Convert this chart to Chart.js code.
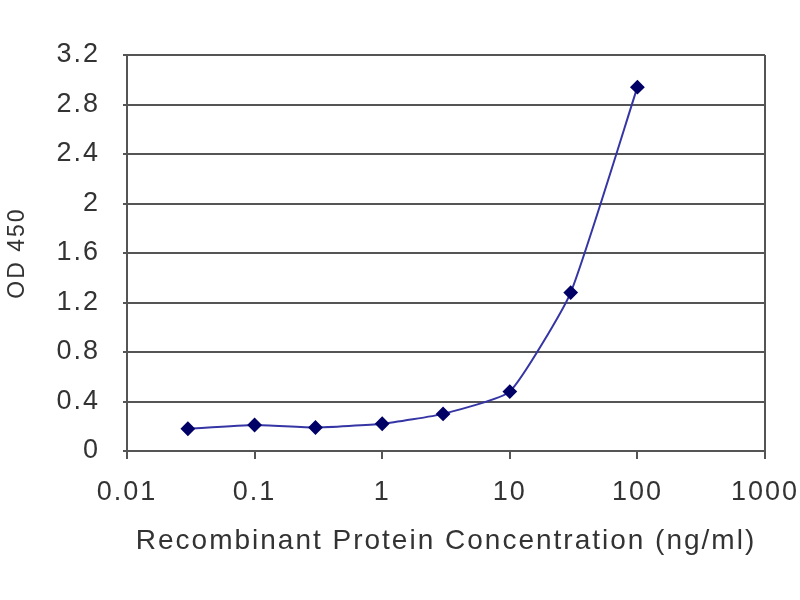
<!DOCTYPE html>
<html>
<head>
<meta charset="utf-8">
<script src="https://cdn.jsdelivr.net/npm/chart.js@4"></script>
<style>
  html, body { margin: 0; padding: 0; background: #fff; }
  #wrap { width: 800px; height: 600px; }
</style>
</head>
<body>
<div id="wrap"><canvas id="chart" width="800" height="600"></canvas></div>
<script>
// concentrations (ng/ml) and OD 450 readings
const concentrations = [0.03, 0.1, 0.3, 1, 3, 10, 30, 100];
const od450 = [0.18, 0.21, 0.19, 0.22, 0.30, 0.48, 1.28, 2.94];
const xTicks = [0.01, 0.1, 1, 10, 100, 1000];
const xTickLabels = ['0.01', '0.1', '1', '10', '100', '1000'];
const yTicks = [0, 0.4, 0.8, 1.2, 1.6, 2, 2.4, 2.8, 3.2];
const yTickLabels = ['0', '0.4', '0.8', '1.2', '1.6', '2', '2.4', '2.8', '3.2'];

const FONT = 'Arial, "Liberation Sans", sans-serif';

// the old picture has widely spaced text
const spacing = {
  id: 'spacing',
  beforeUpdate(chart) { chart.ctx.letterSpacing = '2px'; },
  beforeDraw(chart) { chart.ctx.letterSpacing = '2px'; }
};

// right side of the plot frame
const frame = {
  id: 'frame',
  afterDraw(chart) {
    const a = chart.chartArea;
    const ctx = chart.ctx;
    ctx.save();
    ctx.strokeStyle = '#555';
    ctx.lineWidth = 2;
    ctx.beginPath();
    ctx.moveTo(a.right, a.top);
    ctx.lineTo(a.right, a.bottom);
    ctx.stroke();
    ctx.restore();
  }
};

new Chart(document.getElementById('chart'), {
  type: 'line',
  data: {
    datasets: [{
      data: concentrations.map((c, i) => ({ x: c, y: od450[i] })),
      borderColor: '#3535a5',
      borderWidth: 2,
      pointStyle: 'rectRot',
      pointRadius: 6,
      pointBackgroundColor: '#000066',
      pointBorderColor: '#000066',
      tension: 0.15
    }]
  },
  options: {
    responsive: false,
    animation: false,
    layout: { padding: { left: 4, top: 55, right: 35, bottom: 40 } },
    plugins: { legend: { display: false }, tooltip: { enabled: false } },
    scales: {
      x: {
        type: 'logarithmic',
        min: 0.01,
        max: 1000,
        afterBuildTicks: (s) => { s.ticks = xTicks.map(v => ({ value: v })); },
        afterFit: (s) => { s.height = 109; s.paddingLeft = 0; s.paddingRight = 0; },
        ticks: {
          callback: (v, i) => xTickLabels[i],
          color: '#333',
          font: { family: FONT, size: 27 },
          padding: 17,
          maxRotation: 0,
          autoSkip: false
        },
        grid: { drawOnChartArea: false, drawTicks: true, tickLength: 8, color: '#555', lineWidth: 2 },
        border: { display: true, color: '#555', width: 2 },
        title: {
          display: true,
          text: 'Recombinant Protein Concentration (ng/ml)',
          color: '#333',
          font: { family: FONT, size: 28 },
          padding: { top: 0, bottom: 2 }
        }
      },
      y: {
        min: 0,
        max: 3.2,
        afterBuildTicks: (s) => { s.ticks = yTicks.map(v => ({ value: v })); },
        afterFit: (s) => { s.width = 123; s.paddingTop = 0; s.paddingBottom = 0; },
        ticks: {
          callback: (v, i) => yTickLabels[i],
          color: '#333',
          font: { family: FONT, size: 27 },
          padding: 23
        },
        grid: { color: '#555', lineWidth: 2, drawTicks: true, tickLength: 4 },
        border: { display: true, color: '#555', width: 2 },
        title: {
          display: true,
          text: 'OD 450',
          color: '#333',
          font: { family: FONT, size: 23 },
          padding: { top: 0, bottom: 4 }
        }
      }
    }
  },
  plugins: [spacing, frame]
});
</script>
</body>
</html>
